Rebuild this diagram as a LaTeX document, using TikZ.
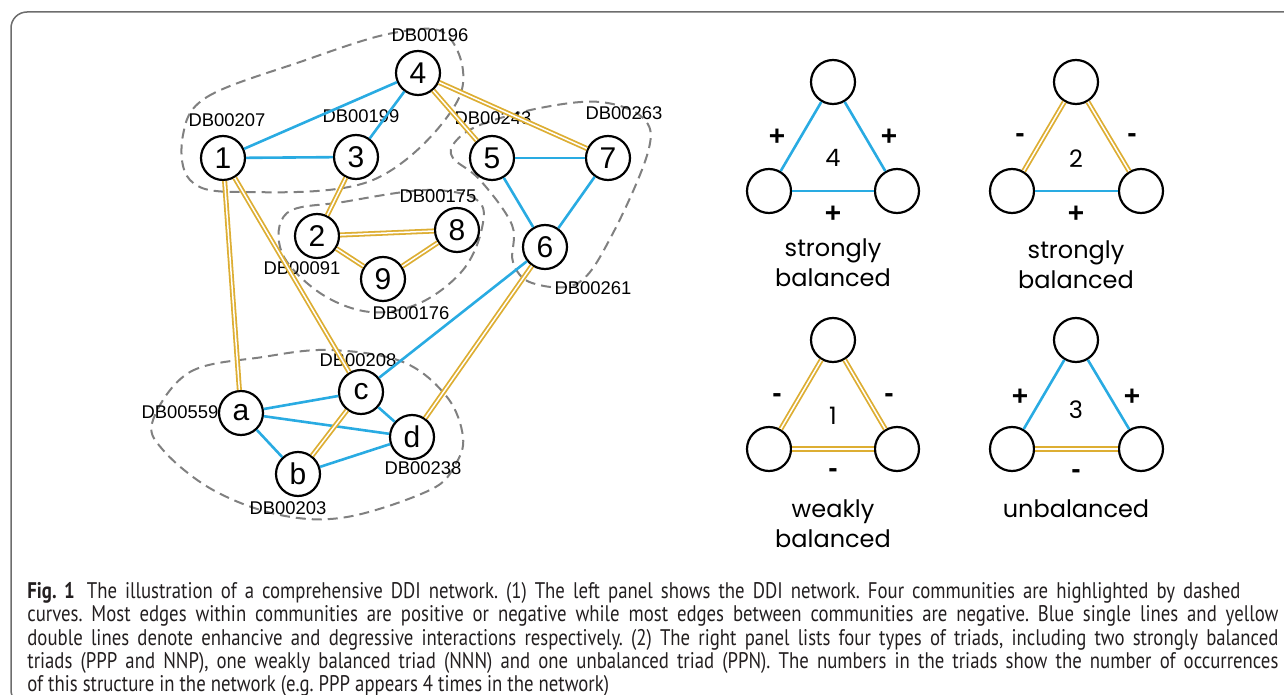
\documentclass[tikz,border=0pt]{standalone}
\usepackage{fontspec}
\setmainfont{Liberation Sans}
\newfontfamily\capfont[FakeStretch=0.83]{PT Sans}
\newfontfamily\trifont{Poppins}

\definecolor{skyblue}{HTML}{29ABE2}
\definecolor{gold}{HTML}{DDAE33}
\definecolor{framegray}{HTML}{6D6D6D}
\definecolor{capgray}{HTML}{231F20}

\begin{document}
\begin{tikzpicture}[x=0.5pt,y=-0.5pt,
  drug/.style={circle,draw,line width=1.1pt,fill=white,minimum size=22pt,
    inner sep=0pt,font=\fontsize{15}{15}\selectfont},
  dbid/.style={font=\fontsize{9.2}{9}\selectfont,inner sep=0pt},
  enh/.style={draw=skyblue,line width=1.3pt},
  deg/.style={draw=gold,line width=0.9pt,double=white,double distance=0.75pt},
  comm/.style={draw=gray,line width=1pt,dash pattern=on 5pt off 3pt},
  sign/.style={font=\fontsize{14}{14}\selectfont\bfseries,inner sep=0pt},
  kind/.style={font=\trifont\fontsize{12}{15}\selectfont,align=center,inner sep=0pt}]
  \useasboundingbox (0,0) rectangle (1284,695);

  % figure box
  \draw[framegray,line width=0.75pt,rounded corners=8]
    (24,706) -- (11,706) -- (11,12) -- (1290,12);

  % communities
  \draw[comm] plot[smooth cycle,tension=0.6] coordinates {(183,135) (207,97) (300,62)
    (393,33) (448,36) (458,100) (373,180) (240,192) (190,180)};
  \draw[comm] plot[smooth cycle,tension=0.6] coordinates {(287,213) (343,202) (427,190)
    (477,200) (482,228) (463,270) (420,303) (370,312) (320,293) (282,253)};
  \draw[comm] plot[smooth cycle,tension=0.6] coordinates {(455,142) (480,125) (540,108)
    (600,102) (643,118) (648,152) (612,235) (578,283) (532,283) (513,262) (512,225)
    (480,180) (453,158)};
  \draw[comm] plot[smooth cycle,tension=0.6] coordinates {(153,420) (190,372) (263,357)
    (330,350) (403,362) (447,397) (463,437) (455,465) (430,490) (347,517) (280,515)
    (213,490) (163,450)};

  % drugs
  \node[drug] (n1) at (223,158) {1};
  \node[drug] (n2) at (317,236) {2};
  \node[drug] (n3) at (356,157) {3};
  \node[drug] (n4) at (418,73) {4};
  \node[drug] (n5) at (492,158) {5};
  \node[drug] (n6) at (545,247) {6};
  \node[drug] (n7) at (608,158) {7};
  \node[drug] (n8) at (457,230) {8};
  \node[drug] (n9) at (383,279) {9};
  \node[drug] (na) at (241,413) {a};
  \node[drug] (nb) at (298,474) {b};
  \node[drug] (nc) at (361,392) {c};
  \node[drug] (nd) at (412,437) {d};

  % drugbank ids
  \node[dbid] (id4) at (430,35) {DB00196};
  \node[dbid] (id1) at (227,120) {DB00207};
  \node[dbid] (id3) at (361,116) {DB00199};
  \node[dbid] (id5) at (493,118) {DB00243};
  \node[dbid] (id7) at (624,113) {DB00263};
  \node[dbid] (id8) at (438,196) {DB00175};
  \node[dbid] (id2) at (302,268) {DB00091};
  \node[dbid] (id9) at (411,313) {DB00176};
  \node[dbid] (id6) at (593,288) {DB00261};
  \node[dbid] (idc) at (358,360) {DB00208};
  \node[dbid] (ida) at (180,412) {DB00559};
  \node[dbid] (idd) at (423,468) {DB00238};
  \node[dbid] (idb) at (288,508) {DB00203};

  % enhancive interactions
  \draw[enh] (n1) -- (n4);
  \draw[enh] (n1) -- (n3);
  \draw[enh] (n3) -- (n4);
  \draw[enh] (n5) -- (n7);
  \draw[enh] (n5) -- (n6);
  \draw[enh] (n7) -- (n6);
  \draw[enh] (n6) -- (nc);
  \draw[enh] (na) -- (nc);
  \draw[enh] (na) -- (nd);
  \draw[enh] (na) -- (nb);
  \draw[enh] (nc) -- (nd);
  \draw[enh] (nb) -- (nd);

  % degressive interactions
  \draw[deg] (n4) -- (n5);
  \draw[deg] (n4) -- (n7);
  \draw[deg] (n3) -- (n2);
  \draw[deg] (n2) -- (n8);
  \draw[deg] (n2) -- (n9);
  \draw[deg] (n9) -- (n8);
  \draw[deg] (n1) -- (na);
  \draw[deg] (n1) -- (nc);
  \draw[deg] (n6) -- (nd);
  \draw[deg] (nc) -- (nb);

  % triads: PPP
  \node[drug] (pa) at (833,82) {};
  \node[drug] (pb) at (769,191) {};
  \node[drug] (pc) at (897,191) {};
  \draw[enh] (pa) -- (pb);
  \draw[enh] (pa) -- (pc);
  \draw[enh] (pb) -- (pc);
  \node[sign] (pab) at (777,137) {+};
  \node[sign] (pac) at (889,137) {+};
  \node[sign] (pbc) at (833,214) {+};
  \node[kind] (pn) at (833,158) {4};
  \node[kind] (pk) at (833,263) {strongly\\balanced};

  % NNP
  \node[drug] (qa) at (1076,82) {};
  \node[drug] (qb) at (1012,191) {};
  \node[drug] (qc) at (1141,191) {};
  \draw[deg] (qa) -- (qb);
  \draw[deg] (qa) -- (qc);
  \draw[enh] (qb) -- (qc);
  \node[sign] (qab) at (1020,138) {-};
  \node[sign] (qac) at (1132,138) {-};
  \node[sign] (qbc) at (1076,214) {+};
  \node[kind] (qn) at (1076,159) {2};
  \node[kind] (qk) at (1076,265) {strongly\\balanced};

  % NNN
  \node[drug] (ra) at (833,340) {};
  \node[drug] (rb) at (769,449) {};
  \node[drug] (rc) at (897,449) {};
  \draw[deg] (ra) -- (rb);
  \draw[deg] (ra) -- (rc);
  \draw[deg] (rb) -- (rc);
  \node[sign] (rab) at (777,398) {-};
  \node[sign] (rac) at (889,398) {-};
  \node[sign] (rbc) at (833,473) {-};
  \node[kind] (rn) at (833,416) {1};
  \node[kind] (rk) at (833,524) {weakly\\balanced};

  % PPN
  \node[drug] (ua) at (1076,340) {};
  \node[drug] (ub) at (1012,449) {};
  \node[drug] (uc) at (1141,449) {};
  \draw[enh] (ua) -- (ub);
  \draw[enh] (ua) -- (uc);
  \draw[deg] (ub) -- (uc);
  \node[sign] (uab) at (1020,397) {+};
  \node[sign] (uac) at (1132,397) {+};
  \node[sign] (ubc) at (1076,474) {-};
  \node[kind] (un) at (1076,410) {3};
  \node[kind] (uk) at (1076,509) {unbalanced};

  % caption
  \node[anchor=north west,inner sep=0pt,text width=625.5pt,align=justify,
    text=capgray,font=\capfont\fontsize{11.3}{11.65}\selectfont\frenchspacing] (cap) at (27,582)
    {\textbf{Fig. 1}\hspace{2pt} The illustration of a comprehensive DDI network. (1) The left panel shows the DDI network. Four communities are highlighted by dashed\hspace*{19pt}\linebreak
    curves. Most edges within communities are positive or negative while most edges between communities are negative. Blue single lines and yellow\linebreak
    double lines denote enhancive and degressive interactions respectively. (2) The right panel lists four types of triads, including two strongly balanced\linebreak
    triads (PPP and NNP), one weakly balanced triad (NNN) and one unbalanced triad (PPN). The numbers in the triads show the number of occurrences\linebreak
    of this structure in the network (e.g. PPP appears 4 times in the network)};
\end{tikzpicture}
\end{document}
